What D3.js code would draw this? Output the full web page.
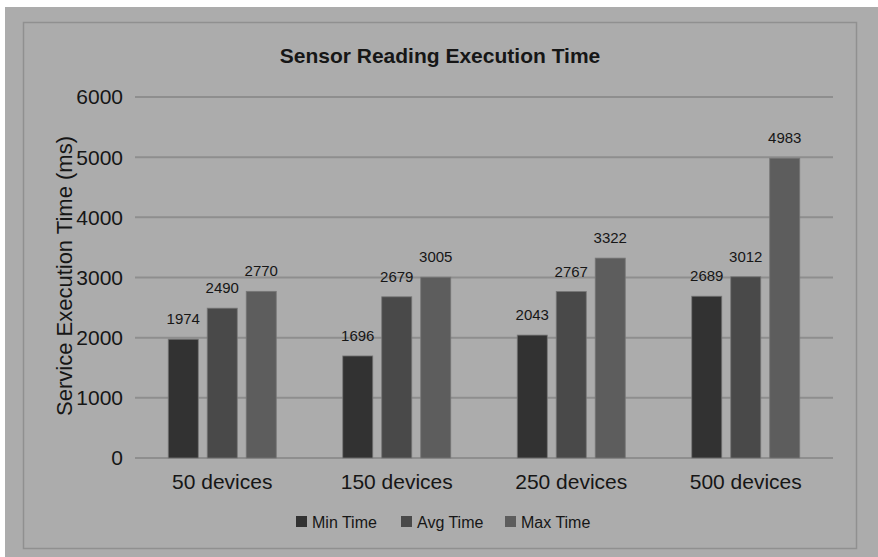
<!DOCTYPE html>
<html>
<head>
<meta charset="utf-8">
<script src="https://cdn.jsdelivr.net/npm/d3@7"></script>
<style>
  body { margin: 0; background: #fff; }
  text { font-family: 'Liberation Sans', Arial, sans-serif; fill: #161616; }
</style>
</head>
<body>
<svg id="chart" width="878" height="557"></svg>
<script>
const categories = ['50 devices', '150 devices', '250 devices', '500 devices']
const seriesNames = ['Min Time', 'Avg Time', 'Max Time']
const minTime = [1974, 1696, 2043, 2689]
const avgTime = [2490, 2679, 2767, 3012]
const maxTime = [2770, 3005, 3322, 4983]
const yTicks = [0, 1000, 2000, 3000, 4000, 5000, 6000]
const colors = ['#323232', '#494949', '#5d5d5d']

const series = [minTime, avgTime, maxTime]

const svg = d3.select('#chart')

// outer and inner panel
svg.append('rect').attr('x', 5).attr('y', 7).attr('width', 873).attr('height', 550).attr('fill', '#acacac')
svg.append('rect').attr('x', 23.5).attr('y', 22.5).attr('width', 833).attr('height', 526)
  .attr('fill', 'none').attr('stroke', '#909090').attr('stroke-width', 1.5)

const plot = { left: 135, right: 833, top: 97, bottom: 458 }
const groupW = 108

const y = d3.scaleLinear().domain([0, 6000]).range([plot.bottom, plot.top])
const x0 = d3.scaleBand().domain(categories).range([plot.left, plot.right])
const x1 = d3.scaleBand().domain(seriesNames).range([0, groupW]).paddingInner(0.23)

// gridlines
svg.append('g').selectAll('line').data(yTicks).join('line')
  .attr('x1', plot.left).attr('x2', plot.right)
  .attr('y1', d => y(d)).attr('y2', d => y(d))
  .attr('stroke', '#8e8e8e').attr('stroke-width', 2)

// y tick labels
svg.append('g').selectAll('text').data(yTicks).join('text')
  .attr('x', 123).attr('y', d => y(d)).attr('dy', '0.35em')
  .attr('text-anchor', 'end').style('font-size', '21px')
  .text(d => d)

// bars
const groups = svg.append('g').selectAll('g').data(categories).join('g')
  .attr('transform', d => `translate(${x0(d) + (x0.bandwidth() - groupW) / 2},0)`)

groups.selectAll('rect').data((c, i) => series.map((s, k) => ({ name: seriesNames[k], v: s[i], k })))
  .join('rect')
  .attr('x', d => x1(d.name)).attr('width', x1.bandwidth())
  .attr('y', d => y(d.v)).attr('height', d => y(0) - y(d.v))
  .attr('fill', d => colors[d.k]).attr('stroke', '#777').attr('stroke-width', 0.8)

groups.selectAll('text.val').data((c, i) => series.map((s, k) => ({ name: seriesNames[k], v: s[i] })))
  .join('text').attr('class', 'val')
  .attr('x', d => x1(d.name) + x1.bandwidth() / 2).attr('y', d => y(d.v) - 15)
  .attr('text-anchor', 'middle').style('font-size', '15px')
  .text(d => d.v)

// category labels
svg.append('g').selectAll('text').data(categories).join('text')
  .attr('x', d => x0(d) + x0.bandwidth() / 2).attr('y', 489)
  .attr('text-anchor', 'middle').style('font-size', '21px')
  .text(d => d)

// title
svg.append('text').attr('x', 440).attr('y', 63).attr('text-anchor', 'middle')
  .style('font-size', '21px').style('font-weight', 'bold')
  .text('Sensor Reading Execution Time')

// y axis title
svg.append('text').attr('transform', 'translate(72,276) rotate(-90)')
  .attr('text-anchor', 'middle').style('font-size', '22px')
  .text('Service Execution Time (ms)')

// legend
const legendX = [296, 401, 505]
const legend = svg.append('g').selectAll('g').data(seriesNames).join('g')
  .attr('transform', (d, i) => `translate(${legendX[i]},522)`)
legend.append('rect').attr('x', 0).attr('y', -6).attr('width', 11).attr('height', 11)
  .attr('fill', (d, i) => colors[i])
legend.append('text').attr('x', 16).attr('y', 0).attr('dy', '0.35em')
  .style('font-size', '16px').text(d => d)
</script>
</body>
</html>
